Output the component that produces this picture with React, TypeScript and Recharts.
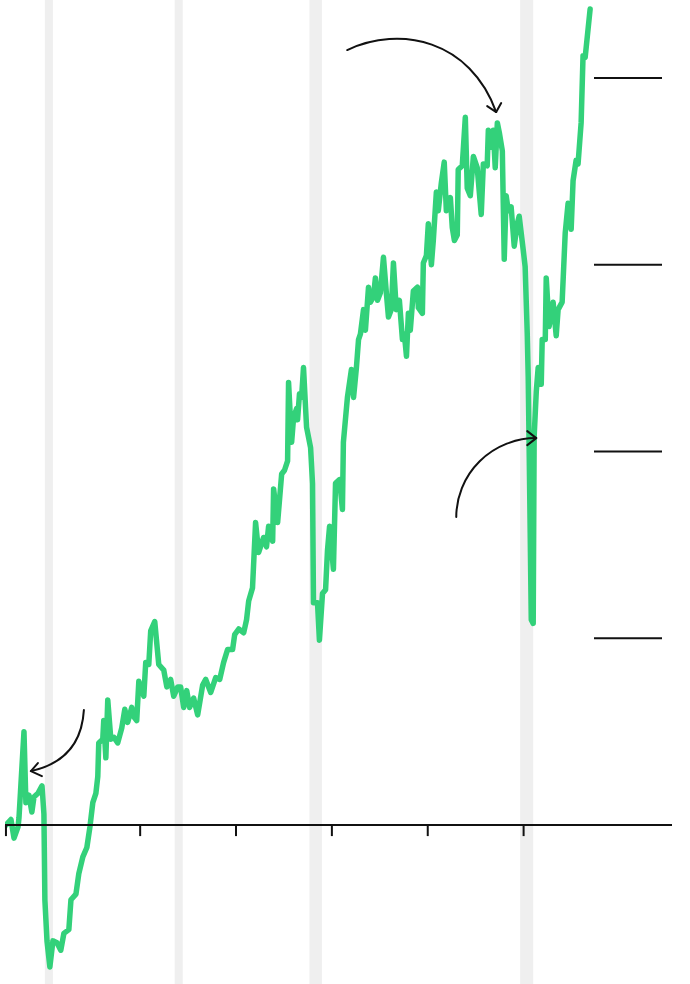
import { LineChart, Line, XAxis, YAxis, ReferenceArea, ReferenceLine, ReferenceDot } from 'recharts';

// decimal years
const years = [
  1993.0, 1993.26, 1993.42, 1993.63, 1993.68, 1993.94, 1994.04, 1994.2, 1994.35, 1994.46,
  1994.67, 1994.88, 1994.98, 1995.03, 1995.14, 1995.29, 1995.45, 1995.66, 1995.86, 1996.02,
  1996.28, 1996.39, 1996.65, 1996.8, 1997.01, 1997.22, 1997.38, 1997.53, 1997.69, 1997.79,
  1997.84, 1998.05, 1998.1, 1998.21, 1998.31, 1998.47, 1998.63, 1998.83, 1999.04, 1999.2,
  1999.35, 1999.56, 1999.67, 1999.82, 1999.93, 2000.19, 2000.29, 2000.45, 2000.55, 2000.76,
  2000.97, 2001.23, 2001.39, 2001.59, 2001.75, 2001.96, 2002.11, 2002.27, 2002.43, 2002.58,
  2002.79, 2003.0, 2003.26, 2003.42, 2003.68, 2003.94, 2004.15, 2004.35, 2004.56, 2004.82,
  2004.93, 2005.14, 2005.4, 2005.55, 2005.66, 2005.86, 2006.02, 2006.18, 2006.44, 2006.59,
  2006.7, 2006.91, 2006.96, 2007.17, 2007.38, 2007.53, 2007.69, 2007.74, 2007.9, 2008.0,
  2008.16, 2008.21, 2008.31, 2008.42, 2008.52, 2008.68, 2008.89, 2008.99, 2009.04, 2009.25,
  2009.35, 2009.51, 2009.67, 2009.77, 2009.88, 2010.08, 2010.19, 2010.4, 2010.55, 2010.6,
  2010.81, 2011.02, 2011.13, 2011.28, 2011.39, 2011.49, 2011.65, 2011.75, 2011.91, 2012.01,
  2012.17, 2012.27, 2012.38, 2012.53, 2012.69, 2012.84, 2012.95, 2013.1, 2013.21, 2013.36,
  2013.52, 2013.68, 2013.78, 2013.89, 2013.99, 2014.09, 2014.25, 2014.46, 2014.51, 2014.72,
  2014.77, 2014.93, 2015.03, 2015.19, 2015.29, 2015.45, 2015.55, 2015.71, 2015.86, 2015.97,
  2016.18, 2016.28, 2016.39, 2016.54, 2016.59, 2016.8, 2016.96, 2017.06, 2017.22, 2017.38,
  2017.58, 2017.79, 2017.9, 2018.1, 2018.16, 2018.31, 2018.42, 2018.52, 2018.63, 2018.73,
  2018.89, 2018.99, 2019.09, 2019.2, 2019.35, 2019.51, 2019.67, 2019.77, 2019.98, 2020.08,
  2020.19, 2020.24, 2020.29, 2020.4, 2020.5, 2020.55, 2020.66, 2020.76, 2020.92, 2020.97,
  2021.13, 2021.18, 2021.33, 2021.54, 2021.7, 2021.8, 2022.01, 2022.17, 2022.32, 2022.48,
  2022.58, 2022.74, 2022.84, 2023.0, 2023.1, 2023.21, 2023.36, 2023.47,
];

// cumulative return, %
const returns = [
  0, 3, -7, -1, 4, 50, 12, 16, 7, 15,
  17, 21, 6, -40, -62, -76, -62, -63, -67, -58,
  -56, -40, -37, -26, -17, -12, -1, 12, 17, 26,
  44, 46, 56, 36, 67, 46, 47, 44, 52, 62,
  55, 63, 58, 56, 77, 69, 87, 86, 104, 109,
  86, 83, 74, 78, 69, 74, 74, 63, 72, 63,
  68, 59, 75, 78, 71, 79, 78, 87, 94, 94,
  102, 105, 103, 110, 120, 127, 162, 146, 154, 149,
  160, 152, 180, 162, 188, 190, 195, 237, 205, 218,
  223, 217, 231, 229, 245, 213, 202, 183, 119, 119,
  99, 124, 126, 147, 160, 137, 183, 185, 169, 205,
  229, 244, 229, 245, 260, 263, 276, 265, 288, 280,
  283, 293, 281, 285, 304, 285, 272, 276, 301, 276,
  281, 260, 263, 251, 274, 265, 286, 288, 277, 274,
  301, 305, 322, 300, 313, 339, 329, 344, 355, 329,
  336, 320, 313, 316, 351, 353, 379, 341, 337, 358,
  352, 327, 354, 353, 372, 363, 372, 352, 376, 371,
  361, 303, 337, 329, 331, 310, 322, 326, 308, 299,
  263, 240, 201, 110, 108, 208, 232, 245, 236, 260,
  260, 293, 267, 280, 262, 276, 280, 317, 333, 319,
  345, 356, 354, 376, 412, 411, 426, 437,
];

const xTicks = [1993, 2000, 2005, 2010, 2015, 2020];
const yTicks = [100, 200, 300, 400];

// shaded periods
const bandStarts = [1995.03, 2001.8, 2008.83, 2019.82];
const bandEnds = [1995.45, 2002.22, 2009.48, 2020.5];

// arrow tips
const noteYears = [2018.57, 1994.3, 2020.66];
const noteValues = [381.8, 28.9, 207.2];

const data = years.map((year, i) => ({ year, value: returns[i] }));

const GREEN = '#33d17a';
const INK = '#111';
const TICK_DEPTH = -5.9;

const arrowPaths = [
  { curve: 'M-149,-62 C-96,-87 -26,-72 0,0', head: 'M-9,-6 L0,0 L5,-9' },
  { curve: 'M53,-61 Q50,-11 0,0', head: 'M7,-8 L0,0 L11,5' },
  { curve: 'M-80,79 A80,79 0 0 1 0,0', head: 'M-9,-7 L0,0 L-9,7' },
];

function Arrow({ cx, cy, idx }: { cx?: number; cy?: number; idx: number }) {
  const a = arrowPaths[idx];
  return (
    <g transform={`translate(${cx},${cy})`} fill="none" stroke={INK} strokeWidth={2} strokeLinecap="round" strokeLinejoin="round">
      <path d={a.curve} />
      <path d={a.head} />
    </g>
  );
}

function GridTick({ y }: { y?: number }) {
  return <line x1={594} x2={662} y1={y} y2={y} stroke={INK} strokeWidth={2} />;
}

export default function App() {
  return (
    <div style={{ position: 'absolute', left: 0, top: 0, background: '#fff' }}>
      <LineChart width={690} height={984} data={data} margin={{ top: 0, right: 0, bottom: 0, left: 5 }}>
        <XAxis dataKey="year" type="number" domain={[1992.95, 2027.74]} allowDataOverflow hide />
        <YAxis
          orientation="right"
          width={18}
          domain={[-85.1, 441.8]}
          allowDataOverflow
          ticks={yTicks}
          axisLine={false}
          tickLine={false}
          tick={(p: any) => <GridTick y={p.y} />}
        />
        {bandStarts.map((s, i) => (
          <ReferenceArea key={'b' + i} x1={s} x2={bandEnds[i]} fill="#efefef" fillOpacity={1} stroke="none" />
        ))}
        <Line
          type="linear"
          dataKey="value"
          stroke={GREEN}
          strokeWidth={5.5}
          strokeLinejoin="round"
          strokeLinecap="round"
          dot={false}
          isAnimationActive={false}
        />
        <ReferenceLine y={0} stroke={INK} strokeWidth={2} />
        {xTicks.map((t) => (
          <ReferenceLine
            key={'t' + t}
            segment={[{ x: t, y: 0 }, { x: t, y: TICK_DEPTH }]}
            stroke={INK}
            strokeWidth={2}
          />
        ))}
        {noteYears.map((x, i) => (
          <ReferenceDot
            key={'n' + i}
            x={x}
            y={noteValues[i]}
            r={0}
            shape={(p: any) => <Arrow cx={p.cx} cy={p.cy} idx={i} />}
          />
        ))}
      </LineChart>
    </div>
  );
}
